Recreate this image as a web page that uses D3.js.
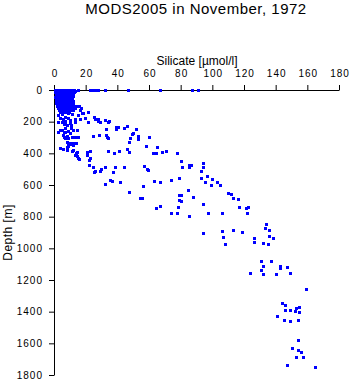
<!DOCTYPE html>
<html><head><meta charset="utf-8">
<script src="https://cdn.jsdelivr.net/npm/d3@7"></script>
<style>
html,body{margin:0;padding:0;background:#fff;}
svg{display:block;font-family:"Liberation Sans",Arial,Helvetica,sans-serif;}
</style></head>
<body>
<svg id="chart" width="351" height="384"></svg>
<script>
const chartTitle = "MODS2005 in November, 1972";
const xLabel = "Silicate [µmol/l]";
const yLabel = "Depth [m]";
const xTicks = [0,20,40,60,80,100,120,140,160,180];
const yTicks = [0,200,400,600,800,1000,1200,1400,1600,1800];

// [silicate µmol/l, depth m]
const surfaceBlob = [
 [0.5,0],[2,0],[3.5,1],[5,0],[6.5,0],[8,1],[9.5,0],[11,0],[12.5,1],
 [1.2,6],[2.7,5],[4.2,7],[5.7,5],[7.2,6],[8.7,5],[10.2,7],[11.7,5],[13.2,6],
 [0.6,15],[2,16],[3.5,14],[5,15],[6.5,17],[8,15],[9.5,14],[11,16],[12.4,15],
 [1.2,28],[2.7,29],[4.2,27],[5.7,28],[7.2,30],[8.7,28],[10.2,27],[11.7,29],
 [0.6,42],[2,41],[3.5,43],[5,42],[6.5,40],[8,42],[9.5,44],[11,42],[12.3,41],
 [1.2,56],[2.7,55],[4.2,57],[5.7,56],[7.2,54],[8.7,56],[10.2,58],[11.6,56],
 [1.5,70],[3,69],[4.5,71],[6,70],[7.5,72],[9,70],[10.5,68],[12,70],
 [1.3,84],[2.7,85],[4.2,83],[5.7,84],[7.2,86],[8.7,84],[10.2,82],[11.7,85],
 [2,98],[3.5,99],[5,97],[6.5,98],[8,100],[9.5,98],[11,97],[12.5,99],[14,100],[15.5,102],
 [2.5,112],[4,113],[5.5,111],[7,112],[8.5,114],[10,112],[11.5,110],[13,113],[17,112],
 [3,126],[4.5,127],[6,125],[7.5,126],[9,128],[10.5,126],[12,124],
 [3.5,140],[5,141],[6.5,139],[8,140],[9.5,142]
];
const upperLayer = [
 [15,0],[23,0],[24.5,0],[26,0],[28,0],[32,0],[47,0],[67,0],[87,0],[91,0],
 [16.4,126],[17.5,147],[21.6,140],[18.5,147],[15.4,158],[13.3,184],[16.4,180],[19.6,179],[25,168],
 [26,184],[21.3,204],[28,184],[28,195],[29,205],[32,192],[34,202],[35,194],
 [2.7,158],[4.8,152],[6.9,168],[9,147],[11.2,150],
 [3.8,179],[5.9,185],[9,174],[2.7,200],[6.9,194],[10.1,189],
 [4.8,205],[6.4,216],[8,221],[10.6,218],[13.3,205],[7,210],[10.1,210],[11,238],
 [3.8,250],[5.2,253],[6.9,242],[9,256],[12.2,250],[14.3,250],[2.7,263],[6,263],[7,263],
 [5.9,284],[8,290],[10.1,274],[11.2,295],[6.3,295],[14.7,295],[9,305],[7,305],[13,295],
 [8,326],[10.1,337],[13.3,333],[9,354],[11.7,347],[12,337],
 [9,341],[11,341],[12.6,335],[14,337],[8.4,358],
 [3.8,368],[5.9,372],[8,379],[11.2,384],[12,379],[14.3,389],[14,396],
 [13.3,410],[15.4,431],[14.3,417],[15.8,434],
 [15,297],[24.4,290],[28.6,284],[33,284],[33.5,297],[34,300],
 [33,247],[39,248],[39,232],[40.5,232],[44,242],[46,225],[52,248],
 [47.4,326],[48,300],[49.7,270],[49,278],[53,290],[53,309],[60,299],
 [58,356],[65,363],[46,372],[47.4,393],[62.5,396],[64.5,400],[68,394],[71,385],[77.5,398]
];
const midLayer = [
 [12,380],[20.6,390],[22.7,383],[20.6,396],[20.6,410],[23,431],[22.3,442],
 [34,385],[38,397],[41,388],
 [22,474],[24.4,486],[26,509],[25.5,516],[29.5,500],[29,514],[32,488],
 [38.5,488],[37.5,518],[44,488],
 [57,477],[58.5,497],[59.5,508],
 [32,594],[35.4,568],[36.5,575],[41.7,584],[56.4,605],[63,575],[67,579],[74,568],[79,556],
 [47.6,642],[54,680],[55.4,684],[64.4,746],[67,733],[74,779],[77.5,779],[78,741],
 [79,663],[79,692],
 [80,451],[81,488],[85,475],[86.3,475],[85,488],[94,459],[94,488],[93,513],
 [92.6,555],[96.4,542],[100,564],[95.4,583],[99.4,602],[102.8,584],[105,602],
 [84.4,631],[80,665],[88,678],[80,699],[94.3,717],[85.3,794],[97,779],[106.3,779],
 [110,650],[112,658],[113.3,684],[116,690],[117,741],[121,743],[122.7,741],[122,779]
];
const deepLayer = [
 [94.3,905],[106.3,892],[107,930],[108,975],[113.3,884],[119,898],[126.3,937],[126,962],
 [132,968],[135,975],[133,874],[134,846],[136,887],[136,924],[138,937],
 [131,1078],[137,1078],[132,1112],[131,1137],[143,1110],[143,1126],[147,1116],
 [124,1158],[132,1164],[140,1164],[149,1158],[159,1259],
 [144,1347],[146,1360],[146,1389],[149,1387],[153,1379],[155,1368],[155,1404],[152,1398],
 [141,1426],[145,1451],[149,1457],[154,1455],
 [154,1577],[150,1627],[154,1644],[156,1653],[153,1684],[157,1686],[147,1739],[165,1747]
];

const samples = surfaceBlob.concat(upperLayer, midLayer, deepLayer);

const svg = d3.select("#chart");
const mLeft = 54, mRight = 339, mTop = 90, mBottom = 375;
const x = d3.scaleLinear().domain([0,180]).range([mLeft,mRight]);
const y = d3.scaleLinear().domain([0,1800]).range([mTop,mBottom]);

svg.append("text").attr("x",196).attr("y",13.5).attr("text-anchor","middle")
  .style("font-size","15px").style("letter-spacing","0.5px").text(chartTitle);

const xg = svg.append("g").attr("transform",`translate(0,${mTop})`)
  .call(d3.axisTop(x).tickValues(xTicks).tickFormat(d3.format("d")).tickSize(5).tickSizeOuter(0).tickPadding(8));
const yg = svg.append("g").attr("transform",`translate(${mLeft},0)`)
  .call(d3.axisLeft(y).tickValues(yTicks).tickFormat(d3.format("d")).tickSize(5).tickSizeOuter(0).tickPadding(6));
[xg,yg].forEach(g=>{
  g.selectAll("text").style("font-size","10px").style("letter-spacing","1px")
   .style("font-family","'Liberation Sans',Arial,sans-serif").attr("fill","#000");
  g.selectAll("line,path").attr("stroke","#000");
});
xg.selectAll("text").attr("dx","0.5px");

svg.append("text").attr("x",197).attr("y",65).attr("text-anchor","middle")
  .style("font-size","12px").text(xLabel);
svg.append("text").attr("transform",`translate(12,${(mTop+mBottom)/2}) rotate(-90)`)
  .attr("text-anchor","middle").style("font-size","12px").style("letter-spacing","0.5px").text(yLabel);

svg.append("g").selectAll("rect").data(samples).join("rect")
  .attr("x",d=>Math.round(x(d[0]))-1).attr("y",d=>Math.round(y(d[1]))-1)
  .attr("width",3).attr("height",3).attr("fill","#0000ff");
</script>
</body></html>
